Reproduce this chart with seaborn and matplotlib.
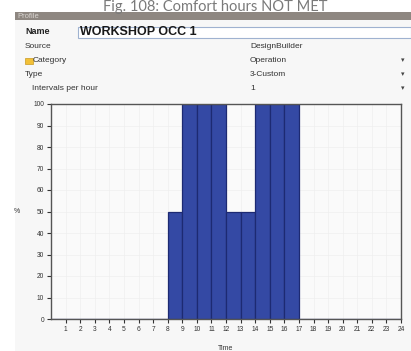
import numpy as np
import pandas as pd
import seaborn as sns
import matplotlib.pyplot as plt
from matplotlib.patches import Rectangle

# hourly profile values (% for the hour ending at each label)
hours = list(range(1, 25))
values = [0, 0, 0, 0, 0, 0, 0, 0, 50, 100, 100, 100, 50, 50, 100, 100, 100,
          0, 0, 0, 0, 0, 0, 0]
y_ticks = [0, 10, 20, 30, 40, 50, 60, 70, 80, 90, 100]

# dialog fields
fields = ["Source", "Category", "Type", "Intervals per hour"]
field_values = ["DesignBuilder", "Operation", "3-Custom", "1"]

W, H = 411, 351

def fx(px):
    return px / W

def fy(py):
    return 1 - py / H

sns.set_theme(style="white")
plt.rcParams['font.family'] = ['Liberation Sans', 'DejaVu Sans']

fig = plt.figure(figsize=(W / 100, H / 100), dpi=100)
fig.patch.set_facecolor("white")

# panel background
fig.add_artist(Rectangle((fx(15), 0), fx(396), fy(19), transform=fig.transFigure,
                         facecolor="#f7f7f7", edgecolor="none", zorder=0))
# "Profile" header strip
fig.add_artist(Rectangle((fx(15), fy(20)), fx(396), 8 / H, transform=fig.transFigure,
                         facecolor="#8e8781", edgecolor="none", zorder=1))
fig.text(fx(17), fy(16), "Profile", color="#d8d4d0", fontsize=5.5, va="center", zorder=2)

# title
fig.text(fx(215), fy(11), "Fig. 108: Comfort hours NOT MET", color="#7a7a7a",
         fontsize=10.5, ha="center", va="baseline", family=["Lato", "DejaVu Sans"])

# name row
fig.add_artist(Rectangle((fx(78), fy(38)), fx(333), 11 / H, transform=fig.transFigure,
                         facecolor="white", edgecolor="#9fb2d0", linewidth=0.8, zorder=1))
fig.text(fx(25), fy(32), "Name", fontsize=6.5, fontweight="bold", color="#222222", va="center")
fig.text(fx(80), fy(32), "WORKSHOP OCC 1", fontsize=9, fontweight="bold", color="#1a1a1a",
         va="center")

row_y = [47, 61, 75, 89]
for i, (lab, val) in enumerate(zip(fields, field_values)):
    x0 = 32 if lab.startswith("Intervals") else 25
    if lab == "Category":
        x0 = 33
        fig.add_artist(Rectangle((fx(25), fy(row_y[i] + 3)), fx(8), 6 / H,
                                 transform=fig.transFigure, facecolor="#f2c037",
                                 edgecolor="#c99a20", linewidth=0.5, zorder=2))
    fig.text(fx(x0), fy(row_y[i]), lab, fontsize=6, color="#333333", va="center")
    fig.text(fx(250), fy(row_y[i]), val, fontsize=6, color="#333333", va="center")
    if i > 0:
        fig.text(fx(403), fy(row_y[i]), "▾", fontsize=5, color="#444444", va="center",
                 ha="center")

# chart
ax = fig.add_axes([fx(51), fy(319), fx(350), 215 / H])
ax.set_facecolor("#fafafa")
df = pd.DataFrame({"centre": [h - 0.5 for h in hours], "value": values})
sns.barplot(data=df, x="centre", y="value", native_scale=True, width=1.0,
            color="#3449a4", saturation=1, edgecolor="#1d2a72", linewidth=0.9, ax=ax)
ax.set_xlim(0, 24)
ax.set_ylim(0, 100)
ax.set_xticks(hours)
ax.set_xticklabels([str(h) for h in hours])
ax.set_yticks(y_ticks)
ax.set_yticklabels([str(v) for v in y_ticks])
ax.tick_params(axis="both", labelsize=4.8, colors="#333333", length=3, width=0.8,
               direction="out", pad=2, bottom=True, left=True)
ax.grid(True, color="#efefef", linewidth=0.5)
ax.set_axisbelow(True)
for s in ax.spines.values():
    s.set_color("#555555")
    s.set_linewidth(1.0)
ax.set_xlabel("Time", fontsize=5, color="#333333", labelpad=9)
ax.set_ylabel("%", fontsize=5, color="#333333", rotation=0, labelpad=12, va="center")

fig.savefig("out.png", dpi=100)
